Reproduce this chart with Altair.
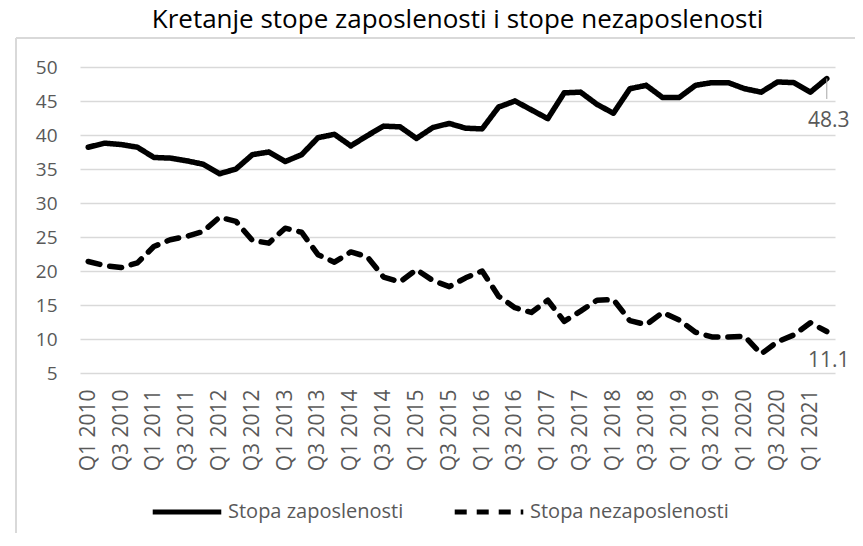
import altair as alt
import pandas as pd

years = list(range(2010, 2022))
quarters = ["Q1", "Q2", "Q3", "Q4"]
periods = [f"{q} {y}" for y in years for q in quarters][:46]

employment = [38.2, 38.8, 38.6, 38.2, 36.7, 36.6, 36.2, 35.7, 34.3, 35.0,
              37.1, 37.5, 36.1, 37.1, 39.6, 40.1, 38.4, 39.9, 41.3, 41.2,
              39.5, 41.1, 41.7, 41.0, 40.9, 44.1, 45.0, 43.7, 42.4, 46.2,
              46.3, 44.5, 43.2, 46.8, 47.3, 45.5, 45.5, 47.3, 47.7, 47.7,
              46.8, 46.3, 47.8, 47.7, 46.3, 48.3]
unemployment = [21.4, 20.8, 20.5, 21.2, 23.6, 24.6, 25.1, 25.8, 27.9, 27.3,
                24.5, 24.1, 26.3, 25.7, 22.4, 21.3, 22.8, 22.1, 19.1, 18.4,
                20.2, 18.6, 17.7, 19.0, 20.0, 16.3, 14.6, 13.9, 15.7, 12.6,
                14.1, 15.7, 15.8, 12.7, 12.1, 13.9, 12.8, 11.0, 10.3, 10.3,
                10.4, 7.8, 9.6, 10.6, 12.4, 11.1]
series_names = ["Stopa zaposlenosti", "Stopa nezaposlenosti"]
y_ticks = [5, 10, 15, 20, 25, 30, 35, 40, 45, 50]
x_ticks = [p for p in periods if p.startswith("Q1") or p.startswith("Q3")]

rows = []
for i, p in enumerate(periods):
    rows.append({"period": p, "series": series_names[0], "value": employment[i]})
    rows.append({"period": p, "series": series_names[1], "value": unemployment[i]})
df = pd.DataFrame(rows)

last_emp = pd.DataFrame([{"period": periods[-1], "value": employment[-1]}])
last_unemp = pd.DataFrame([{"period": periods[-1], "value": unemployment[-1]}])

FONT = "Open Sans"
GRAY = "#595959"

x_scale = alt.Scale(type="point", padding=0.5)
y_scale = alt.Scale(domain=[5, 50], nice=False, zero=False)
x_axis = alt.Axis(values=x_ticks, labelAngle=-90, ticks=False, domain=False,
                  grid=False, labelPadding=16, labelFontSize=21,
                  labelColor=GRAY, labelFont=FONT, title=None,
                  labelBaseline="middle", labelOverlap=False)
y_axis = alt.Axis(values=y_ticks, tickCount=20, ticks=False, domain=False,
                  grid=True, gridColor="#d9d9d9", gridWidth=1.3,
                  labelPadding=23, labelFontSize=19, labelColor=GRAY,
                  labelFont=FONT, title=None, labelOverlap=False)

x_enc = alt.X("period:N", sort=periods, scale=x_scale, axis=x_axis)
y_enc = alt.Y("value:Q", scale=y_scale, axis=y_axis)

lines = alt.Chart(df).mark_line(strokeWidth=5.5, strokeCap="round", strokeJoin="round",
                                color="black").encode(
    x=x_enc, y=y_enc,
    strokeDash=alt.StrokeDash("series:N", sort=series_names,
                              scale=alt.Scale(domain=series_names, range=[[1, 0], [12, 10]]),
                              legend=alt.Legend(orient="none", direction="horizontal",
                                                legendX=70, legendY=408, title=None,
                                                symbolType="stroke", symbolSize=4700,
                                                symbolStrokeWidth=5, symbolStrokeColor="black",
                                                labelFontSize=20, labelColor=GRAY,
                                                labelFont=FONT, labelOffset=4, labelLimit=400,
                                                columnPadding=40, symbolDash=[14, 8])),
)

lbl_emp = alt.Chart(last_emp).mark_text(dy=42, dx=2, fontSize=21, color=GRAY, font=FONT,
                                        baseline="middle").encode(
    x=x_enc, y=y_enc, text=alt.Text("value:Q", format=".1f"))
lbl_unemp = alt.Chart(last_unemp).mark_text(dy=29, dx=2, fontSize=21, color=GRAY, font=FONT,
                                            baseline="middle").encode(
    x=x_enc, y=y_enc, text=alt.Text("value:Q", format=".1f"))
leader = alt.Chart(last_emp).transform_calculate(end="datum.value - 3").mark_rule(
    color="#a6a6a6", strokeWidth=1).encode(
    x=x_enc, y=y_enc, y2="end:Q")

border_top = alt.Chart(last_emp).mark_rule(color="#d9d9d9", strokeWidth=2).encode(
    x=alt.value(-64), x2=alt.value(820), y=alt.value(-29))
border_left = alt.Chart(last_emp).mark_rule(color="#d9d9d9", strokeWidth=2).encode(
    x=alt.value(-64), y=alt.value(-29), y2=alt.value(480))

chart = alt.layer(lines, leader, lbl_emp, lbl_unemp, border_top, border_left).properties(
    width=755, height=306,
    title=alt.Title("Kretanje stope zaposlenosti i stope nezaposlenosti", fontSize=26,
                    font=FONT, fontWeight="normal", color="black", anchor="middle",
                    frame="group", offset=4),
    autosize=alt.AutoSizeParams(type="none"),
    padding={"left": 72, "top": 59, "right": 20, "bottom": 160},
).configure_view(stroke=None)

chart.save("out.html", embed_options={"renderer": "svg", "actions": False})
